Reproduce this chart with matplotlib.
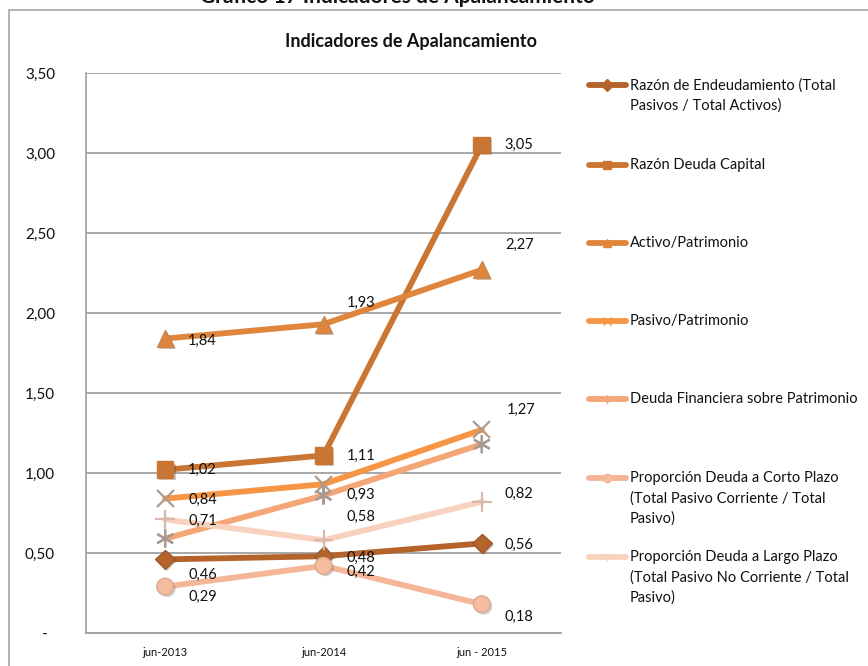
import matplotlib
matplotlib.use("Agg")
import matplotlib.pyplot as plt
from matplotlib.lines import Line2D
from matplotlib.patches import Rectangle
import matplotlib.patheffects as pe

plt.rcParams['font.family'] = ['Lato', 'DejaVu Sans']

# ---------------- data ----------------
categories = ["jun-2013", "jun-2014", "jun - 2015"]
series_names = [
    "Razón de Endeudamiento (Total\nPasivos / Total Activos)",
    "Razón Deuda Capital",
    "Activo/Patrimonio",
    "Pasivo/Patrimonio",
    "Deuda Financiera sobre Patrimonio",
    "Proporción Deuda a Corto Plazo\n(Total Pasivo Corriente / Total\nPasivo)",
    "Proporción Deuda a Largo Plazo\n(Total Pasivo No Corriente / Total\nPasivo)",
]
razon_endeudamiento = [0.46, 0.48, 0.56]
razon_deuda_capital = [1.02, 1.11, 3.05]
activo_patrimonio = [1.84, 1.93, 2.27]
pasivo_patrimonio = [0.84, 0.93, 1.27]
deuda_financiera = [0.59, 0.86, 1.18]
deuda_corto_plazo = [0.29, 0.42, 0.18]
deuda_largo_plazo = [0.71, 0.58, 0.82]
show_labels = [True, True, True, True, False, True, True]
y_ticks = [0, 0.5, 1.0, 1.5, 2.0, 2.5, 3.0, 3.5]
y_tick_labels = ["-  ", "0,50", "1,00", "1,50", "2,00", "2,50", "3,00", "3,50"]

values = [razon_endeudamiento, razon_deuda_capital, activo_patrimonio,
          pasivo_patrimonio, deuda_financiera, deuda_corto_plazo, deuda_largo_plazo]

# ---------------- styles ----------------
line_colors = ["#b4632a", "#c97634", "#e0863c", "#f69545", "#f4a677", "#f5b697", "#f9d2bf"]
markers = ["D", "s", "^", "x", (6, 2, 0), "o", "+"]
marker_sizes = [10, 12, 12, 12, 13, 12, 14]
marker_face = ["#b4632a", "#c97634", "#e0863c", "#f69545", "#f4a677", "#f5bca0", "#f9d2bf"]
marker_edge = ["#9a5a30", "#c97634", "#c98450", "#b09a8a", "#a89a90", "#d9a890", "#d8b8aa"]
marker_ew = [1, 1, 1, 1.6, 1.6, 1, 1.6]
# label offsets in pixels (dx, dy up-positive) per series / point
label_offsets = [
    [(23, -15), (23, -2), (23, -1)],
    [(23, 0), (23, 0), (23, 0)],
    [(23, -2), (23, 21), (23, 25)],
    [(23, -1), (23, -11), (25, 20)],
    [(23, 0), (23, 0), (23, 0)],
    [(23, -10), (23, -6), (23, -13)],
    [(23, -1), (23, 23), (23, 8)],
]

W, H = 868, 666
fig = plt.figure(figsize=(W / 100, H / 100), dpi=100)

# outer border of the chart
fig.add_artist(Rectangle((9 / W, -0.01), 1.0, 1 - 10 / H + 0.01, transform=fig.transFigure,
                         fill=False, edgecolor="#a6a6a6", linewidth=1.2))

# document caption (cut off at top, as in the source image)
fig.text(397 / W, 1 - 3 / H, "Gráfico 17 Indicadores de Apalancamiento", ha="center",
         va="baseline", fontsize=15, fontweight="bold", color="#111111")

ax = fig.add_axes([86 / W, 1 - 633 / H, (561 - 86) / W, (633 - 73) / H])
x = list(range(len(categories)))

px2pt = 72 / 100
shadow = [pe.SimplePatchShadow(offset=(1.5, -1.5), alpha=0.25), pe.Normal()]
for i, vals in enumerate(values):
    ax.plot(x, vals, color=line_colors[i], linewidth=4.2, solid_capstyle="round",
            zorder=3 + i)
    ax.plot(x, vals, linestyle="none", marker=markers[i], markersize=marker_sizes[i],
            markerfacecolor=marker_face[i], markeredgecolor=marker_edge[i],
            markeredgewidth=marker_ew[i], zorder=3.5 + i, path_effects=shadow)
    if show_labels[i]:
        for j, v in enumerate(vals):
            dx, dy = label_offsets[i][j]
            ax.annotate(f"{v:.2f}".replace(".", ","), (x[j], v),
                        xytext=(dx * px2pt, dy * px2pt), textcoords="offset points",
                        ha="left", va="center", fontsize=10.5, color="#111111", zorder=20)

ax.set_xlim(-0.5, 2.5)
ax.set_ylim(0, 3.5)
ax.set_yticks(y_ticks)
ax.set_yticklabels(y_tick_labels)
ax.set_xticks(x)
ax.set_xticklabels(categories)
ax.tick_params(axis="y", length=0, pad=31 * px2pt, labelsize=11, labelcolor="#111111")
ax.tick_params(axis="x", length=0, pad=10, labelsize=8, labelcolor="#111111")
ax.grid(axis="y", color="#a0a0a0", linewidth=1.3)
ax.set_axisbelow(True)
for s in ["top", "right"]:
    ax.spines[s].set_visible(False)
ax.spines["left"].set_color("#a0a0a0")
ax.spines["bottom"].set_color("#a0a0a0")
ax.spines["left"].set_linewidth(1.2)
ax.spines["bottom"].set_linewidth(1.3)

fig.text(411 / W, 1 - 42 / H, "Indicadores de Apalancamiento", ha="center", va="center",
         fontsize=13, fontweight="bold", color="#111111")

# legend, drawn manually so the handle aligns with the first text line
legend_y = [85, 165, 243, 321, 399, 478, 557]
for i, name in enumerate(series_names):
    yy = 1 - legend_y[i] / H
    fig.add_artist(Line2D([589 / W, 626 / W], [yy, yy], transform=fig.transFigure,
                          color=line_colors[i], linewidth=4.2, solid_capstyle="round"))
    fig.add_artist(Line2D([607 / W], [yy], transform=fig.transFigure, linestyle="none",
                          marker=markers[i], markersize=6, markerfacecolor=marker_face[i],
                          markeredgecolor=line_colors[i], markeredgewidth=1))
    fig.text(630 / W, 1 - (legend_y[i] - 7) / H, name, ha="left", va="top", fontsize=10.5,
             color="#111111", linespacing=1.55)

fig.savefig("out.png", dpi=100)
